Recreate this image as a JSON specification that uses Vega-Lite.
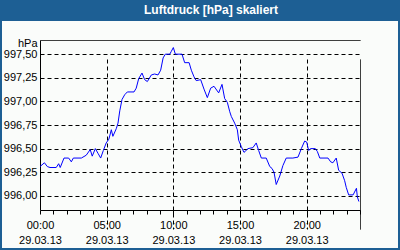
{
  "$schema": "https://vega.github.io/schema/vega-lite/v6.json",
  "width": 396,
  "height": 227,
  "autosize": {"type": "none"},
  "padding": {"left": 2, "right": 2, "top": 21, "bottom": 2},
  "background": "#1d5f94",
  "config": {"view": {"fill": "#fafcfa", "stroke": null}, "font": "Liberation Sans"},
  "title": {"text": "Luftdruck [hPa] skaliert", "color": "#ffffff", "fontSize": 12, "fontWeight": "bold", "font": "Liberation Sans", "anchor": "middle", "dx": 11, "offset": -5, "baseline": "alphabetic"},
  "data": {"values": [
    {"t": "2013-03-29T00:00:00Z", "p": 996.31},
    {"t": "2013-03-29T00:20:00Z", "p": 996.35},
    {"t": "2013-03-29T00:33:00Z", "p": 996.31},
    {"t": "2013-03-29T00:45:00Z", "p": 996.30},
    {"t": "2013-03-29T01:13:00Z", "p": 996.30},
    {"t": "2013-03-29T01:24:00Z", "p": 996.34},
    {"t": "2013-03-29T01:31:00Z", "p": 996.30},
    {"t": "2013-03-29T01:48:00Z", "p": 996.40},
    {"t": "2013-03-29T02:09:00Z", "p": 996.40},
    {"t": "2013-03-29T02:21:00Z", "p": 996.36},
    {"t": "2013-03-29T02:30:00Z", "p": 996.40},
    {"t": "2013-03-29T03:06:00Z", "p": 996.40},
    {"t": "2013-03-29T03:28:00Z", "p": 996.43},
    {"t": "2013-03-29T03:46:00Z", "p": 996.49},
    {"t": "2013-03-29T03:55:00Z", "p": 996.42},
    {"t": "2013-03-29T04:09:00Z", "p": 996.50},
    {"t": "2013-03-29T04:21:00Z", "p": 996.45},
    {"t": "2013-03-29T04:33:00Z", "p": 996.40},
    {"t": "2013-03-29T04:45:00Z", "p": 996.48},
    {"t": "2013-03-29T04:58:00Z", "p": 996.56},
    {"t": "2013-03-29T05:10:00Z", "p": 996.60},
    {"t": "2013-03-29T05:21:00Z", "p": 996.70},
    {"t": "2013-03-29T05:28:00Z", "p": 996.63},
    {"t": "2013-03-29T05:43:00Z", "p": 996.71},
    {"t": "2013-03-29T05:51:00Z", "p": 996.77},
    {"t": "2013-03-29T05:59:00Z", "p": 996.90},
    {"t": "2013-03-29T06:09:00Z", "p": 997.02},
    {"t": "2013-03-29T06:21:00Z", "p": 997.07},
    {"t": "2013-03-29T06:33:00Z", "p": 997.10},
    {"t": "2013-03-29T07:03:00Z", "p": 997.10},
    {"t": "2013-03-29T07:13:00Z", "p": 997.14},
    {"t": "2013-03-29T07:24:00Z", "p": 997.24},
    {"t": "2013-03-29T07:39:00Z", "p": 997.30},
    {"t": "2013-03-29T07:51:00Z", "p": 997.23},
    {"t": "2013-03-29T08:03:00Z", "p": 997.21},
    {"t": "2013-03-29T08:21:00Z", "p": 997.28},
    {"t": "2013-03-29T08:36:00Z", "p": 997.29},
    {"t": "2013-03-29T08:51:00Z", "p": 997.28},
    {"t": "2013-03-29T09:03:00Z", "p": 997.33},
    {"t": "2013-03-29T09:14:00Z", "p": 997.46},
    {"t": "2013-03-29T09:24:00Z", "p": 997.50},
    {"t": "2013-03-29T09:44:00Z", "p": 997.50},
    {"t": "2013-03-29T09:51:00Z", "p": 997.53},
    {"t": "2013-03-29T10:00:00Z", "p": 997.57},
    {"t": "2013-03-29T10:09:00Z", "p": 997.50},
    {"t": "2013-03-29T10:39:00Z", "p": 997.50},
    {"t": "2013-03-29T10:51:00Z", "p": 997.41},
    {"t": "2013-03-29T11:11:00Z", "p": 997.41},
    {"t": "2013-03-29T11:21:00Z", "p": 997.33},
    {"t": "2013-03-29T11:33:00Z", "p": 997.26},
    {"t": "2013-03-29T11:43:00Z", "p": 997.22},
    {"t": "2013-03-29T12:03:00Z", "p": 997.23},
    {"t": "2013-03-29T12:18:00Z", "p": 997.13},
    {"t": "2013-03-29T12:33:00Z", "p": 997.04},
    {"t": "2013-03-29T12:48:00Z", "p": 997.14},
    {"t": "2013-03-29T13:03:00Z", "p": 997.16},
    {"t": "2013-03-29T13:24:00Z", "p": 997.09},
    {"t": "2013-03-29T13:39:00Z", "p": 997.18},
    {"t": "2013-03-29T13:51:00Z", "p": 997.03},
    {"t": "2013-03-29T14:03:00Z", "p": 996.99},
    {"t": "2013-03-29T14:14:00Z", "p": 996.89},
    {"t": "2013-03-29T14:21:00Z", "p": 996.84},
    {"t": "2013-03-29T14:36:00Z", "p": 996.77},
    {"t": "2013-03-29T14:48:00Z", "p": 996.70},
    {"t": "2013-03-29T14:54:00Z", "p": 996.59},
    {"t": "2013-03-29T15:06:00Z", "p": 996.52},
    {"t": "2013-03-29T15:18:00Z", "p": 996.46},
    {"t": "2013-03-29T15:36:00Z", "p": 996.50},
    {"t": "2013-03-29T15:58:00Z", "p": 996.51},
    {"t": "2013-03-29T16:13:00Z", "p": 996.56},
    {"t": "2013-03-29T16:24:00Z", "p": 996.48},
    {"t": "2013-03-29T16:36:00Z", "p": 996.40},
    {"t": "2013-03-29T16:58:00Z", "p": 996.40},
    {"t": "2013-03-29T17:14:00Z", "p": 996.31},
    {"t": "2013-03-29T17:24:00Z", "p": 996.29},
    {"t": "2013-03-29T17:33:00Z", "p": 996.25},
    {"t": "2013-03-29T17:43:00Z", "p": 996.12},
    {"t": "2013-03-29T17:59:00Z", "p": 996.21},
    {"t": "2013-03-29T18:13:00Z", "p": 996.32},
    {"t": "2013-03-29T18:28:00Z", "p": 996.40},
    {"t": "2013-03-29T18:58:00Z", "p": 996.40},
    {"t": "2013-03-29T19:21:00Z", "p": 996.41},
    {"t": "2013-03-29T19:36:00Z", "p": 996.50},
    {"t": "2013-03-29T19:51:00Z", "p": 996.58},
    {"t": "2013-03-29T20:00:00Z", "p": 996.57},
    {"t": "2013-03-29T20:09:00Z", "p": 996.48},
    {"t": "2013-03-29T20:18:00Z", "p": 996.50},
    {"t": "2013-03-29T20:39:00Z", "p": 996.50},
    {"t": "2013-03-29T20:48:00Z", "p": 996.47},
    {"t": "2013-03-29T20:59:00Z", "p": 996.40},
    {"t": "2013-03-29T21:36:00Z", "p": 996.40},
    {"t": "2013-03-29T21:48:00Z", "p": 996.36},
    {"t": "2013-03-29T21:58:00Z", "p": 996.35},
    {"t": "2013-03-29T22:13:00Z", "p": 996.40},
    {"t": "2013-03-29T22:24:00Z", "p": 996.27},
    {"t": "2013-03-29T22:39:00Z", "p": 996.24},
    {"t": "2013-03-29T22:51:00Z", "p": 996.16},
    {"t": "2013-03-29T22:58:00Z", "p": 996.09},
    {"t": "2013-03-29T23:09:00Z", "p": 996.01},
    {"t": "2013-03-29T23:29:00Z", "p": 996.01},
    {"t": "2013-03-29T23:44:00Z", "p": 996.08},
    {"t": "2013-03-29T23:48:00Z", "p": 995.99},
    {"t": "2013-03-29T23:55:00Z", "p": 995.94}
  ]},
  "mark": {"type": "line", "color": "#0000ff", "strokeWidth": 1},
  "encoding": {
    "x": {
      "field": "t", "type": "temporal",
      "scale": {"type": "utc", "domain": [{"year": 2013, "month": 3, "date": 29, "hours": 0, "utc": true}, {"year": 2013, "month": 3, "date": 30, "hours": 0, "utc": true}], "range": [38, 358]},
      "axis": {
        "orient": "bottom", "offset": -38, "title": null,
        "values": [1364515200000, 1364518800000, 1364522400000, 1364526000000, 1364529600000, 1364533200000, 1364536800000, 1364540400000, 1364544000000, 1364547600000, 1364551200000, 1364554800000, 1364558400000, 1364562000000, 1364565600000, 1364569200000, 1364572800000, 1364576400000, 1364580000000, 1364583600000, 1364587200000, 1364590800000, 1364594400000, 1364598000000, 1364601600000],
        "labelExpr": "(round((+datum.value - 1364515200000) / 3600000) % 5 === 0) && (+datum.value < 1364601600000) ? [utcFormat(datum.value, '%H:%M'), '29.03.13'] : ''",
        "labelFont": "Liberation Sans", "labelFontSize": 11, "labelColor": "#000000",
        "labelPadding": 5, "labelLineHeight": 15, "labelOverlap": false, "labelFlush": false, "labelBound": false,
        "tickSize": 4, "tickColor": "#000000", "domainColor": "#000000",
        "grid": true, "gridColor": "#000000",
        "gridDash": {"condition": {"test": "+datum.value >= 1364601600000", "value": [1, 0]}, "value": [4, 3]},
        "gridOpacity": {"condition": {"test": "((round((+datum.value - 1364515200000) / 3600000) % 5 === 0) && (+datum.value > 1364515200000)) || (+datum.value >= 1364601600000)", "value": 1}, "value": 0}
      }
    },
    "y": {
      "field": "p", "type": "quantitative",
      "scale": {"domain": [995.85, 997.65], "range": [189, 19], "zero": false, "nice": false},
      "axis": {
        "orient": "left", "offset": -38,
        "values": [996, 996.25, 996.5, 996.75, 997, 997.25, 997.5, 997.65],
        "labelExpr": "datum.value > 997.6 ? '' : replace(format(datum.value, '.2f'), '.', ',')",
        "labelFont": "Liberation Sans", "labelFontSize": 11, "labelColor": "#000000", "labelPadding": 3, "labelOverlap": false,
        "ticks": false, "domainColor": "#000000",
        "grid": true, "gridColor": "#000000",
        "gridDash": {"condition": {"test": "datum.value > 997.6", "value": [1, 0]}, "value": [4, 3]},
        "title": "hPa", "titleAngle": 0, "titleAlign": "right", "titleBaseline": "alphabetic",
        "titleX": -3, "titleY": 25, "titleFont": "Liberation Sans", "titleFontSize": 11, "titleFontWeight": "normal", "titleColor": "#000000"
      }
    }
  }
}
